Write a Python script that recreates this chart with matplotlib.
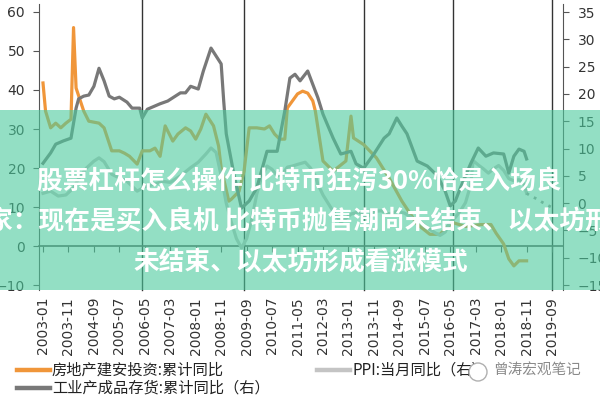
import matplotlib
matplotlib.use("Agg")
import matplotlib.pyplot as plt
from matplotlib.patches import Rectangle, Ellipse
from matplotlib.lines import Line2D

# ---------- DATA (month index, 0 = 2003-01) ----------
# 房地产建安投资:累计同比 (left axis)
inv_months = [0, 1, 3, 5, 7, 9, 11, 12, 13, 16, 18, 22, 24, 27, 30, 32, 34, 37, 39, 42,
              44, 46, 48, 51, 53, 56, 58, 60, 62, 64, 67, 69, 70, 73, 74, 77, 79, 81, 84, 87,
              89, 91, 93, 95, 96, 98, 100, 102, 104, 106, 107, 110, 114, 119, 121, 122, 126, 131, 136, 141,
              147, 152, 156, 159, 161, 166, 172, 176, 178, 181, 183, 185, 187, 190]
inv_values = [41.8, 34.6, 30.3, 31.5, 30.3, 31.5, 32.5, 56, 40.5, 34.6, 32, 31.5, 30.3, 24.4, 24.4, 23.8, 23, 21, 24.4, 24.4,
              25.1, 23, 30.8, 26.9, 28.7, 30.3, 29.5, 27.4, 30, 33.8, 30.8, 25.6, 20, 11.5, 12, 14, 19.2, 30.3, 30.3, 30,
              30.8, 28.7, 27.4, 27.4, 35.4, 37.2, 39, 39.7, 39.2, 37.2, 34.6, 21.8, 19.2, 21.8, 33.3, 27.7, 26, 22.6, 17.4, 11.5,
              5.6, 3, 3, 5, 6, 5, 5.5, 5.5, 3.3, 0.5, -3.3, -5.1, -3.8, -3.8]

# 工业产成品存货:累计同比 (right axis)
stock_months = [0, 3, 5, 8, 11, 13, 14, 16, 18, 20, 22, 24, 26, 28, 30, 33, 35, 38, 39, 41,
                44, 46, 49, 51, 54, 56, 58, 61, 63, 66, 70, 71, 72, 75, 78, 81, 84, 88, 92, 95,
                97, 99, 101, 104, 108, 110, 114, 117, 121, 123, 126, 130, 134, 136, 139, 141, 143, 147, 151, 155,
                158, 160, 162, 164, 168, 171, 174, 177, 181, 183, 185, 187, 189, 190]
stock_values = [7.3, 9.2, 10.8, 11.4, 11.9, 17.4, 19.1, 19.6, 19.8, 21.4, 24.7, 22.4, 19.6, 19.1, 19.4, 18.5, 17.4, 17.4, 15.6, 17.2,
                17.8, 18.2, 18.7, 19.3, 20.2, 20.2, 21.4, 20.9, 24.2, 28.4, 25.5, 18.7, 12.7, 5.3, -0.9, 0.4, 2.8, 9.5, 9.5, 16.9,
                22.9, 23.6, 22.4, 24.2, 19.3, 16.3, 11.9, 9, 9.5, 7.2, 6.4, 9, 11.9, 12.7, 15.6, 14.1, 12.7, 7.7, 6.8, 5,
                2.2, -0.5, 0.4, 2.8, 7.2, 10.1, 8.6, 9.2, 9, 5.5, 8.6, 9.9, 9.5, 8.1]

# PPI:当月同比 (right axis)
ppi_months = [0, 3, 6, 9, 12, 14, 17, 20, 22, 24, 27, 30, 33, 37, 40, 44, 47, 50, 54, 58,
              61, 64, 66, 68, 70, 72, 74, 76, 78, 80, 82, 84, 86, 88, 90, 92, 94, 96, 98, 100,
              103, 105, 107, 108, 110, 112, 114, 117, 119, 121, 124, 127, 130, 133, 136, 139, 142, 145, 148, 151,
              154, 156, 158, 160, 162, 164, 166, 168, 169, 171, 173, 175, 177, 179, 181, 183, 185, 187, 189, 190]
ppi_values = [1.8, 2.2, 1.3, 1.5, 2.8, 4.5, 6.4, 7.7, 8.3, 7.6, 5.3, 4.6, 4.0, 2.2, 3.0, 3.5, 4.0, 3.8, 5.0, 6.5,
              7.5, 9.0, 10.1, 9.3, 5.0, 0.0, -3.5, -6.5, -8.2, -6.5, -3.0, 1.7, 5.0, 6.8, 6.2, 5.0, 5.3, 6.6, 6.8, 7.1,
              7.5, 6.5, 5.0, 3.5, 1.5, 0.0, -1.5, -3.5, -2.8, -2.0, -1.6, -2.7, -1.5, -1.4, -2.0, -1.5, -1.8, -2.7, -3.3, -4.5,
              -5.4, -5.9, -5.3, -3.4, -2.6, -1.4, 0.1, 3.3, 7.8, 7.0, 6.3, 5.5, 6.3, 6.9, 6.0, 4.5, 4.1, 4.3, 3.5, 1.8]
ppi_fc_months = [190, 192, 194, 196, 198, 200]
ppi_fc_values = [1.8, 1.2, 0.8, 0.2, -0.3, -0.8]

vline_months = [39, 79, 126, 161, 200]
tick_months = list(range(0, 201, 10))
tick_labels = ["2003-01", "2003-11", "2004-09", "2005-07", "2006-05", "2007-03", "2008-01",
               "2008-11", "2009-09", "2010-07", "2011-05", "2012-03", "2013-01", "2013-11",
               "2014-09", "2015-07", "2016-05", "2017-03", "2018-01", "2018-11", "2019-09"]

overlay_lines = ["股票杠杆怎么操作 比特币狂泻30%恰是入场良",
                 "家：现在是买入良机 比特币抛售潮尚未结束、以太坊形",
                 "未结束、以太坊形成看涨模式"]

CJK = ["Noto Sans CJK SC", "DejaVu Sans"]
ORANGE = "#f0963a"
GRAY = "#787878"
LIGHT = "#c4c4c4"

# ---------- PLOT ----------
fig = plt.figure(figsize=(6, 4), dpi=100)
ax = fig.add_axes([39 / 600, 1 - 290 / 400, 524 / 600, 286 / 400])
ax.set_xlim(-1.57, 204.3)
ax.set_ylim(-11.28, 62.05)
ax2 = ax.twinx()
ax2.set_ylim(-15.9, 36.47)

for m in vline_months:
    ax.axvline(m, ymin=0, ymax=1.014, color="#333333", lw=1.0, clip_on=False, zorder=1)

ax.plot(inv_months, inv_values, color=ORANGE, lw=2.3, zorder=3)
ax2.plot(ppi_months, ppi_values, color=LIGHT, lw=2.3, zorder=2)
ax2.plot(ppi_fc_months, ppi_fc_values, color="#9a9a9a", lw=2.0, ls=(0, (1, 2)), zorder=2)
ax2.plot(stock_months, stock_values, color=GRAY, lw=2.3, zorder=3)

# axes styling
for s in ["top", "right"]:
    ax.spines[s].set_visible(False)
for s in ["top", "left", "bottom"]:
    ax2.spines[s].set_visible(False)
ax.spines["left"].set_color("#555555")
ax2.spines["right"].set_color("#555555")
ax.spines["bottom"].set_position(("data", 0))
ax.spines["bottom"].set_color("#555555")
ax.spines["bottom"].set_linewidth(1.2)

ax.set_yticks(range(-10, 61, 10))
ax2.set_yticks(range(-15, 36, 5))
ax.tick_params(axis="y", direction="out", length=4, color="#555555",
               labelcolor="#333333", labelsize=10, pad=6)
ax2.tick_params(axis="y", direction="out", length=4, color="#555555",
                labelcolor="#333333", labelsize=10, pad=6.5)

ax.set_xticks(tick_months)
ax.tick_params(axis="x", direction="out", length=4, color="#555555", labelbottom=False)
sec = ax.secondary_xaxis("bottom")
sec.set_xticks(tick_months, labels=tick_labels)
sec.tick_params(length=0, pad=5, labelrotation=90, labelsize=10, labelcolor="#333333")
sec.spines["bottom"].set_visible(False)

# ---------- LEGEND ----------
legend_rows = [(17, 370, ORANGE, "房地产建安投资:累计同比"),
               (17, 388, GRAY, "工业产成品存货:累计同比（右）"),
               (317, 370, LIGHT, "PPI:当月同比（右）")]
for x0, y0, c, label in legend_rows:
    fig.add_artist(Line2D([x0 / 600, (x0 + 33) / 600], [1 - y0 / 400] * 2,
                          color=c, lw=3.2, transform=fig.transFigure))
    fig.text((x0 + 35) / 600, 1 - y0 / 400, label, family=CJK, fontsize=11,
             color="#222222", va="center", ha="left")

# watermark
fig.add_artist(Ellipse((478 / 600, 1 - 372 / 400), 18 / 600, 18 / 400,
                       transform=fig.transFigure, facecolor="white",
                       edgecolor="#b0b0b0", lw=1.0, zorder=4))
fig.text(493 / 600, 1 - 370 / 400, "曾涛宏观笔记", family=CJK, fontsize=10.5,
         color="#8a8a8a", va="center", ha="left", zorder=4)

# ---------- OVERLAY BAND ----------
fig.add_artist(Rectangle((0, 1 - 290 / 400), 1, 180 / 400, transform=fig.transFigure,
                         facecolor="#4bcb9d", edgecolor="none", alpha=0.6, zorder=5))
for (x0, y0), s in zip([(37, 182), (-13, 222), (133, 263)], overlay_lines):
    fig.text(x0 / 600, 1 - y0 / 400, s, family=CJK, fontsize=18.5, fontweight="bold",
             color="white", va="center", ha="left", zorder=6)

fig.savefig("out.png", dpi=100)
